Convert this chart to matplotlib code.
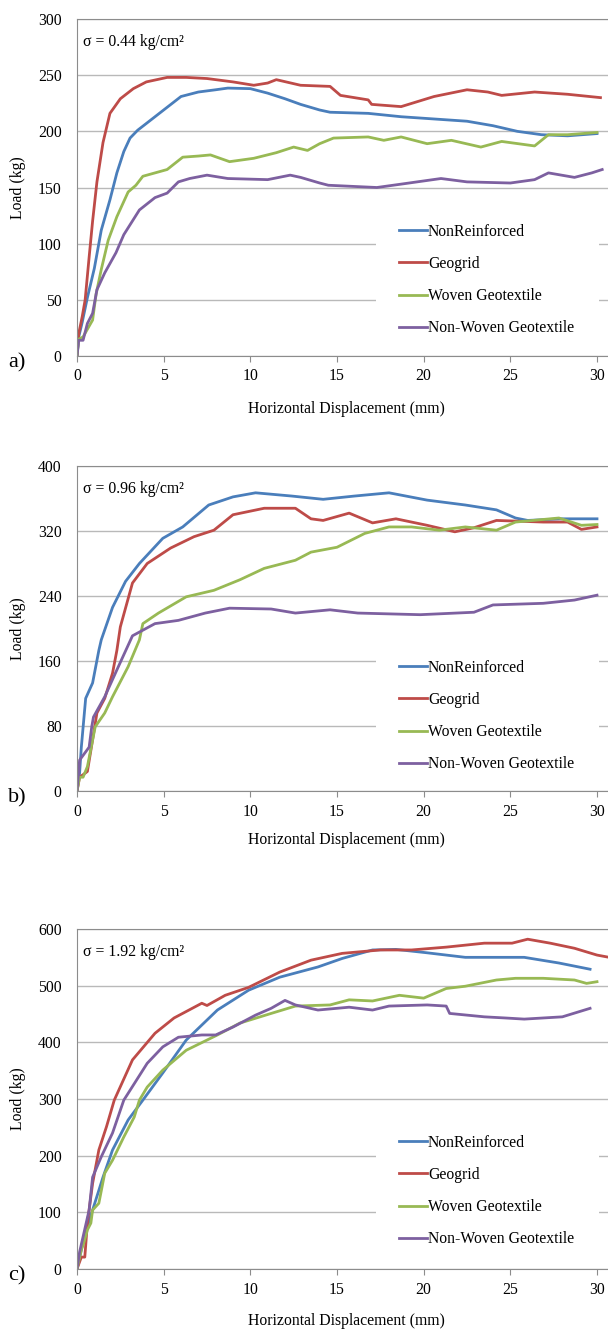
import matplotlib
matplotlib.use("Agg")
import matplotlib.pyplot as plt
from matplotlib.lines import Line2D
from matplotlib.patches import Rectangle

plt.rcParams["font.family"] = ["Liberation Serif", "DejaVu Serif"]

SERIES = ["NonReinforced", "Geogrid", "Woven Geotextile", "Non-Woven Geotextile"]
COLORS = ["#4a7ebb", "#be4b48", "#98b954", "#7d60a0"]
X_TICKS = [0, 5, 10, 15, 20, 25, 30]
FS = 11.3

# --- sigma = 0.44 kg/cm2 ---
a_nr_x = [0, 0.1, 0.3, 0.6, 1.0, 1.4, 1.9, 2.3, 2.7, 3.06, 3.5, 4.0, 5.0, 6.0, 7.0, 8.0, 8.7,
          10.0, 11.0, 12.0, 12.9, 14.0, 14.6, 16.8, 18.7, 20.6, 22.5, 24.0, 25.4, 26.8, 28.3, 30.0]
a_nr_y = [0, 17, 30, 52, 78, 112, 139, 163, 182, 194, 201, 207, 219, 231, 235, 237, 238.5,
          238, 234, 229, 224, 219, 217, 216, 213, 211, 209, 205, 200, 197, 196, 198]
a_gg_x = [0, 0.1, 0.3, 0.47, 0.7, 0.9, 1.15, 1.5, 1.9, 2.5, 3.25, 4.0, 5.2, 6.3, 7.5, 9.0, 10.2,
          11.0, 11.5, 12.9, 14.6, 15.2, 16.8, 17.0, 18.7, 20.6, 22.5, 23.7, 24.5, 26.4, 28.3, 30.2]
a_gg_y = [0, 20, 35, 50, 88, 120, 155, 190, 216, 229, 238, 244, 248, 248, 247, 244, 241,
          243, 246, 241, 240, 232, 228, 224, 222, 231, 237, 235, 232, 235, 233, 230]
a_wg_x = [0, 0.1, 0.35, 0.9, 1.1, 1.4, 1.8, 2.3, 2.95, 3.4, 3.8, 4.5, 5.2, 6.1, 7.0, 7.7, 8.8,
          10.2, 11.5, 12.5, 13.3, 14.0, 14.8, 16.8, 17.7, 18.7, 20.2, 21.6, 23.3, 24.5, 26.4,
          27.2, 28.3, 30.0]
a_wg_y = [0, 15, 17, 32, 55, 77, 103, 124, 146, 152, 160, 163, 166, 177, 178, 179, 173,
          176, 181, 186, 183, 189, 194, 195, 192, 195, 189, 192, 186, 191, 187,
          197, 197, 199]
a_nw_x = [0, 0.1, 0.35, 0.6, 0.9, 1.15, 1.6, 2.25, 2.7, 3.6, 4.5, 5.2, 5.85, 6.5, 7.5, 8.7,
          11.0, 12.3, 12.9, 14.0, 14.5, 17.3, 18.7, 21.0, 22.5, 25.0, 26.4, 27.2, 28.7, 29.7, 30.3]
a_nw_y = [0, 14, 14, 29, 38, 59, 74, 92, 108, 130, 141, 145, 155, 158, 161, 158,
          157, 161, 159, 154, 152, 150, 153, 158, 155, 154, 157, 163, 159, 163, 166]

# --- sigma = 0.96 kg/cm2 ---
b_nr_x = [0, 0.15, 0.25, 0.5, 0.9, 1.26, 1.4, 2.05, 2.8, 3.6, 4.95, 6.1, 7.6, 9.0, 10.3,
          12.4, 14.2, 16.0, 18.0, 20.2, 22.4, 24.2, 25.3, 26.0, 28.0, 30.0]
b_nr_y = [0, 22, 54, 114, 133, 173, 186, 226, 258, 280, 311, 325, 352, 362, 367,
          363, 359, 363, 367, 358, 352, 346, 336, 333, 335, 335]
b_gg_x = [0, 0.15, 0.6, 0.8, 1.15, 1.6, 2.05, 2.3, 2.5, 3.2, 4.05, 5.4, 6.75, 7.9, 9.0, 10.8,
          12.6, 13.5, 14.2, 15.7, 17.05, 18.4, 20.2, 21.8, 22.9, 24.2, 26.9, 28.3, 29.1, 30.0]
b_gg_y = [0, 17, 24, 50, 96, 114, 145, 173, 202, 256, 280, 299, 313, 321, 340, 348,
          348, 335, 333, 342, 330, 335, 327, 319, 324, 333, 331, 331, 322, 325]
b_wg_x = [0, 0.15, 0.35, 0.6, 1.05, 1.6, 2.05, 2.95, 3.6, 3.8, 4.7, 6.3, 7.9, 9.4, 10.8, 12.6,
          13.5, 15.0, 16.6, 18.0, 19.3, 20.9, 22.4, 24.2, 25.3, 27.8, 29.1, 30.0]
b_wg_y = [0, 17, 17, 30, 79, 96, 116, 153, 186, 206, 219, 239, 247, 260, 274, 284,
          294, 300, 317, 325, 325, 321, 325, 321, 331, 336, 327, 328]
b_nw_x = [0, 0.15, 0.7, 0.85, 0.95, 1.6, 2.3, 3.2, 4.5, 5.85, 7.4, 8.8, 11.2, 12.6, 14.6,
          16.2, 19.8, 22.9, 24.0, 26.9, 28.7, 30.0]
b_nw_y = [0, 38, 54, 79, 91, 116, 149, 191, 206, 210, 219, 225, 224, 219, 223,
          219, 217, 220, 229, 231, 235, 241]

# --- sigma = 1.92 kg/cm2 ---
c_nr_x = [0, 0.47, 0.9, 1.5, 2.05, 2.95, 3.8, 4.95, 6.3, 8.1, 9.9, 11.7, 13.9, 15.3, 17.05,
          18.4, 20.2, 22.4, 25.8, 27.8, 29.6]
c_nr_y = [0, 63, 104, 162, 210, 263, 298, 346, 404, 457, 492, 515, 533, 548, 563,
          564, 558, 550, 550, 540, 529]
c_gg_x = [0, 0.25, 0.45, 0.6, 0.9, 1.26, 1.7, 2.15, 3.2, 4.5, 5.6, 7.2, 7.5, 8.55, 9.9, 11.7,
          13.5, 15.3, 17.5, 19.3, 21.3, 23.5, 25.1, 26.0, 27.3, 28.7, 30.0, 30.7]
c_gg_y = [0, 21, 21, 81, 151, 210, 251, 298, 369, 416, 443, 469, 465, 483, 497, 524,
          545, 557, 563, 563, 568, 575, 575, 582, 575, 566, 554, 550]
c_wg_x = [0, 0.25, 0.4, 0.6, 0.8, 0.9, 1.26, 1.6, 2.05, 2.7, 3.3, 3.6, 4.05, 4.95, 6.3, 8.1,
          9.4, 11.2, 12.6, 14.6, 15.7, 17.05, 18.6, 20.0, 21.3, 22.4, 24.2, 25.3, 26.9, 28.7,
          29.4, 30.0]
c_wg_y = [0, 34, 47, 69, 81, 104, 116, 169, 192, 233, 268, 298, 321, 351, 386, 413,
          434, 451, 464, 466, 475, 473, 483, 478, 495, 499, 510, 513, 513, 510,
          504, 507]
c_nw_x = [0, 0.15, 0.7, 0.9, 1.4, 2.05, 2.7, 2.95, 4.05, 4.95, 5.85, 7.2, 8.0, 9.0, 10.3,
          11.2, 12.0, 12.6, 13.9, 15.7, 17.05, 18.0, 20.2, 21.3, 21.5, 23.5, 24.7, 25.8,
          26.9, 28.0, 29.6]
c_nw_y = [0, 30, 104, 162, 198, 240, 298, 310, 363, 392, 409, 413, 413, 427, 448,
          460, 474, 466, 457, 462, 457, 464, 466, 464, 451, 445, 443, 441,
          443, 445, 460]

W, H = 608, 1329
fig = plt.figure(figsize=(W / 100, H / 100), dpi=100)


def fx(px):
    return px / W


def fy(py):
    return 1 - py / H


def panel(top, bottom, ymax, ystep, curves, sigma, tag, leg_center, xlab_y):
    ax = fig.add_axes([fx(77), fy(bottom), 1 - fx(77), (bottom - top) / H])
    for (xs, ys), color in zip(curves, COLORS):
        ax.plot(xs, ys, color=color, lw=2.0, solid_joinstyle="round")
    ax.set_xlim(0, 30 * (W - 77) / (597 - 77))
    ax.set_ylim(0, ymax)
    ax.set_xticks(X_TICKS)
    ax.set_yticks(range(0, ymax + 1, ystep))
    ax.yaxis.grid(True, color="#b9b9b9", lw=1)
    ax.set_axisbelow(True)
    for side in ("left", "bottom", "top"):
        ax.spines[side].set_color("#8c8c8c")
    ax.spines["right"].set_visible(False)
    ax.tick_params(axis="x", length=4, color="#8c8c8c", pad=5, labelsize=FS)
    ax.tick_params(axis="y", length=0, pad=11, labelsize=FS)

    # white legend area breaks the gridlines but not the axis line
    ax.add_patch(Rectangle((fx(376), fy(leg_center + 66)), fx(599) - fx(376), 132 / H,
                           transform=fig.transFigure, facecolor="white",
                           edgecolor="none", zorder=1, clip_on=False))
    handles = [Line2D([], [], color=c, lw=2.0) for c in COLORS]
    ax.legend(handles, SERIES, loc="center left",
              bbox_to_anchor=(fx(399), fy(leg_center)), bbox_transform=fig.transFigure,
              frameon=False, fontsize=FS, handlelength=1.8, handletextpad=0.05,
              labelspacing=1.04, borderpad=0, borderaxespad=0)

    fig.text(fx(83), fy(top + 23), sigma, fontsize=FS, va="center", ha="left")
    fig.text(fx(8), fy(bottom + 7), tag, fontsize=16, va="center", ha="left")
    fig.text(fx(18), fy((top + bottom) / 2), "Load (kg)", fontsize=FS,
             rotation=90, va="center", ha="center")
    fig.text(fx(346), fy(xlab_y), "Horizontal Displacement (mm)", fontsize=FS,
             va="center", ha="center")
    return ax


panel(19, 356, 300, 50,
      [(a_nr_x, a_nr_y), (a_gg_x, a_gg_y), (a_wg_x, a_wg_y), (a_nw_x, a_nw_y)],
      "σ = 0.44 kg/cm²", "a)", 280, 409)
panel(466, 791, 400, 80,
      [(b_nr_x, b_nr_y), (b_gg_x, b_gg_y), (b_wg_x, b_wg_y), (b_nw_x, b_nw_y)],
      "σ = 0.96 kg/cm²", "b)", 716, 840)
panel(929, 1269, 600, 100,
      [(c_nr_x, c_nr_y), (c_gg_x, c_gg_y), (c_wg_x, c_wg_y), (c_nw_x, c_nw_y)],
      "σ = 1.92 kg/cm²", "c)", 1191, 1321)

fig.savefig("out.png", dpi=100)
